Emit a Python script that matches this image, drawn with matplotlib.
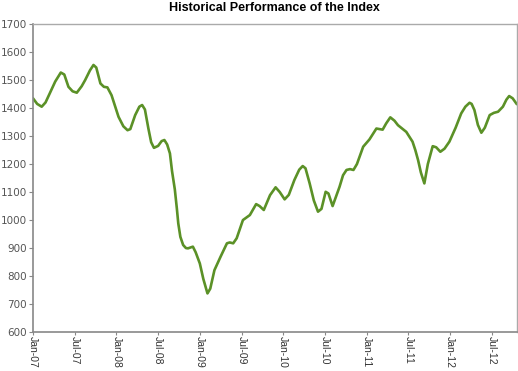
import numpy as np
import matplotlib
matplotlib.use('Agg')
import matplotlib.pyplot as plt

# months since Jan-2007
months = [0.0, 0.6, 1.25, 1.8, 2.4, 3.2, 4.0, 4.5, 5.1, 5.7, 6.3, 7.0, 7.5, 8.2, 8.7, 9.1,
          9.7, 10.2, 10.7, 11.3, 12.3, 13.0, 13.6, 14.0, 14.7, 15.3, 15.7, 16.1, 16.6, 17.0,
          17.4, 18.0, 18.5, 18.9, 19.3, 19.7, 20.0, 20.4, 20.7, 20.9, 21.2, 21.6, 22.0, 22.3,
          23.0, 23.4, 24.0, 24.5, 25.1, 25.5, 26.1, 27.0, 27.9, 28.3, 28.8, 29.3, 30.2, 31.2,
          32.1, 32.6, 33.2, 34.1, 34.9, 35.5, 36.2, 36.8, 37.6, 38.3, 38.8, 39.2, 39.8, 40.4,
          41.0, 41.5, 42.1, 42.5, 43.1, 44.1, 44.6, 45.1, 45.6, 46.1, 46.6, 47.5, 48.4, 49.4,
          50.3, 50.8, 51.4, 52.0, 52.5, 53.7, 54.6, 55.0, 55.4, 55.8, 56.3, 56.8, 57.5, 58.0,
          58.6, 59.2, 59.9, 60.8, 61.6, 62.2, 62.8, 63.1, 63.5, 64.0, 64.5, 65.0, 65.7, 66.3,
          66.9, 67.6, 68.1, 68.5, 69.0, 69.6]
index_values = [1435, 1415, 1405, 1420, 1452, 1495, 1527, 1520, 1476, 1460, 1455, 1478, 1500, 1535, 1554, 1545,
                1488, 1476, 1474, 1446, 1369, 1335, 1321, 1325, 1375, 1405, 1411, 1395, 1327, 1278,
                1258, 1265, 1282, 1286, 1270, 1238, 1175, 1110, 1040, 988, 940, 911, 900, 899,
                905, 885, 845, 790, 738, 755, 821, 870, 917, 920, 917, 935, 1000, 1018,
                1057, 1050, 1036, 1089, 1117, 1100, 1074, 1090, 1143, 1180, 1193, 1185, 1131, 1070,
                1030, 1040, 1101, 1095, 1050, 1119, 1160, 1179, 1182, 1179, 1200, 1262, 1288, 1327,
                1323, 1345, 1367, 1355, 1339, 1315, 1280, 1250, 1214, 1170, 1131, 1200, 1264, 1260,
                1244, 1255, 1280, 1330, 1381, 1405, 1419, 1415, 1393, 1340, 1312, 1330, 1375, 1383,
                1387, 1405, 1430, 1443, 1435, 1414]

tick_months = [0, 6, 12, 18, 24, 30, 36, 42, 48, 54, 60, 66]
tick_labels = ['Jan-07', 'Jul-07', 'Jan-08', 'Jul-08', 'Jan-09', 'Jul-09',
               'Jan-10', 'Jul-10', 'Jan-11', 'Jul-11', 'Jan-12', 'Jul-12']

fig = plt.figure(figsize=(5.18, 3.71), dpi=100)
ax = fig.add_axes([0.0637, 0.105, 0.934, 0.83])

ax.plot(months, index_values, color='#5b9127', linewidth=1.9,
        solid_capstyle='round', solid_joinstyle='round')

ax.set_xlim(0, months[-1])
ax.set_ylim(600, 1700)
ax.set_yticks(np.arange(600, 1701, 100))
ax.set_xticks(tick_months)
ax.set_xticklabels(tick_labels, rotation=270, fontsize=7.5, family='Liberation Sans', color='#333333')
for lbl in ax.get_yticklabels():
    lbl.set_fontsize(7.5)
    lbl.set_color('#555555')

ax.tick_params(axis='both', length=3, width=0.8, color='#888888', pad=1.5)
ax.tick_params(axis='x', length=2, pad=0.5)

for side in ['left', 'bottom']:
    ax.spines[side].set_color('#888888')
    ax.spines[side].set_linewidth(1.2)
for side in ['top', 'right']:
    ax.spines[side].set_color('#aaaaaa')
    ax.spines[side].set_linewidth(1.0)

ax.set_title('Historical Performance of the Index', fontsize=9, fontweight='bold',
             family='Liberation Sans', pad=9.5)

plt.savefig('out.png', dpi=100)
